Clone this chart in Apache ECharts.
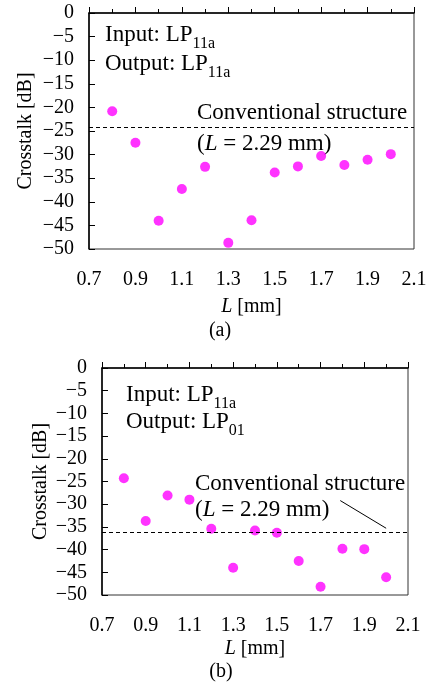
<!DOCTYPE html>
<html>
<head>
<meta charset="utf-8">
<script src="https://cdn.jsdelivr.net/npm/echarts@6/dist/echarts.min.js"></script>
<style>
  html, body { margin: 0; padding: 0; background: #fff; }
  #main { width: 431px; height: 684px; }
</style>
</head>
<body>
<div id="main"></div>
<script>
// lengths L [mm]
var lengths = [0.8, 0.9, 1.0, 1.1, 1.2, 1.3, 1.4, 1.5, 1.6, 1.7, 1.8, 1.9, 2.0];
// (a) LP11a -> LP11a
var xtalkA = [-20.8, -27.5, -44.0, -37.3, -32.6, -48.7, -43.9, -33.8, -32.5, -30.3, -32.2, -31.1, -29.9];
// (b) LP11a -> LP01
var xtalkB = [-24.3, -33.7, -28.1, -29.0, -35.4, -44.0, -35.8, -36.3, -42.5, -48.2, -39.8, -39.9, -46.1];
// conventional structure (L = 2.29 mm)
var convA = -24.2;
var convB = -36.1;
var yTicks = [0, -5, -10, -15, -20, -25, -30, -35, -40, -45, -50];
var xTicks = [0.7, 0.9, 1.1, 1.3, 1.5, 1.7, 1.9, 2.1];

var FONT = '"Liberation Serif", "DejaVu Serif", serif';
var myChart = echarts.init(document.getElementById('main'), null, { renderer: 'canvas' });

function pairs(xs, ys) {
    return xs.map(function (x, i) { return [x, ys[i]]; });
}
function minus(v) {
    return v < 0 ? '\u2212' + Math.abs(v) : String(v);
}

function xAx(idx, nameGap) {
    return {
        type: 'value', gridIndex: idx,
        min: xTicks[0], max: xTicks[xTicks.length - 1], interval: 0.2,
        name: '{i|L} [mm]', nameLocation: 'middle', nameGap: nameGap,
        nameTextStyle: { fontFamily: FONT, fontSize: 20, color: '#000',
            rich: { i: { fontFamily: FONT, fontSize: 20, fontStyle: 'italic', color: '#000' } } },
        axisLine: { lineStyle: { color: '#000', width: 1.5 } },
        axisTick: { inside: true, length: 6, lineStyle: { color: '#000' } },
        minorTick: { show: true, splitNumber: 2, length: 4, lineStyle: { color: '#000' } },
        splitLine: { show: false },
        axisLabel: { fontFamily: FONT, fontSize: 20, color: '#000', margin: 21,
            formatter: function (v) { return v.toFixed(1); } }
    };
}
function yAx(idx, nameGap) {
    return {
        type: 'value', gridIndex: idx,
        min: yTicks[yTicks.length - 1], max: yTicks[0], interval: 5,
        name: 'Crosstalk [dB]', nameLocation: 'middle', nameGap: nameGap,
        nameMoveOverlap: false,
        nameTextStyle: { fontFamily: FONT, fontSize: 20, color: '#000' },
        axisLine: { lineStyle: { color: '#000', width: 1.5 } },
        axisTick: { inside: true, length: 6, lineStyle: { color: '#000' } },
        splitLine: { show: false },
        axisLabel: { fontFamily: FONT, fontSize: 20, color: '#000', margin: 15, formatter: minus }
    };
}

var dotStyle = { color: '#ff00ff' };
var dashStyle = { color: '#000', type: [4, 3], width: 1.2 };

option = {
    animation: false,
    backgroundColor: '#fff',
    grid: [
        { left: 89, top: 13, width: 325, height: 236, show: true, borderColor: '#333', borderWidth: 1 },
        { left: 102, top: 368, width: 306, height: 227, show: true, borderColor: '#333', borderWidth: 1 }
    ],
    xAxis: [xAx(0, 48), xAx(1, 44)],
    yAxis: [yAx(0, 53), yAx(1, 51)],
    series: [{
        type: 'scatter', xAxisIndex: 0, yAxisIndex: 0,
        data: pairs(lengths, xtalkA),
        symbolSize: 10, itemStyle: dotStyle, silent: true,
        markLine: {
            silent: true, symbol: 'none', label: { show: false },
            lineStyle: dashStyle,
            data: [{ yAxis: convA }]
        }
    }, {
        type: 'scatter', xAxisIndex: 1, yAxisIndex: 1,
        data: pairs(lengths, xtalkB),
        symbolSize: 10, itemStyle: dotStyle, silent: true,
        markLine: {
            silent: true, symbol: 'none', label: { show: false },
            lineStyle: dashStyle,
            data: [
                { yAxis: convB },
                [{ coord: [1.79, -29.2], lineStyle: { type: 'solid', width: 1 } }, { coord: [2.0, -35.3] }]
            ]
        }
    }],
    graphic: []
};

var rich = {
    m: { fontFamily: FONT, fontSize: 23, color: '#000', lineHeight: 26 },
    s: { fontFamily: FONT, fontSize: 16, color: '#000', verticalAlign: 'bottom', lineHeight: 16, padding: [0, 0, -4, 0] },
    i: { fontFamily: FONT, fontSize: 23, fontStyle: 'italic', color: '#000', lineHeight: 26 }
};
function txt(x, y, s) {
    return { type: 'text', left: x, top: y, silent: true,
        style: { text: s, rich: rich, font: '23px ' + FONT, fill: '#000' } };
}
function cap(x, y, s) {
    return { type: 'text', x: x, y: y, silent: true,
        style: { text: s, fontFamily: FONT, fontSize: 20, fill: '#000', align: 'center', verticalAlign: 'middle' } };
}
option.graphic = [
    txt(105, 23, '{m|Input: LP}{s|11a}'),
    txt(105, 52, '{m|Output: LP}{s|11a}'),
    txt(197, 101, '{m|Conventional structure}'),
    txt(197, 132, '{m|(}{i|L}{m| = 2.29 mm)}'),
    cap(220, 331, '(a)'),
    txt(126, 383, '{m|Input: LP}{s|11a}'),
    txt(126, 410, '{m|Output: LP}{s|01}'),
    txt(195, 472, '{m|Conventional structure}'),
    txt(195, 498, '{m|(}{i|L}{m| = 2.29 mm)}'),
    cap(221, 672, '(b)')
];

myChart.setOption(option);
</script>
</body>
</html>
